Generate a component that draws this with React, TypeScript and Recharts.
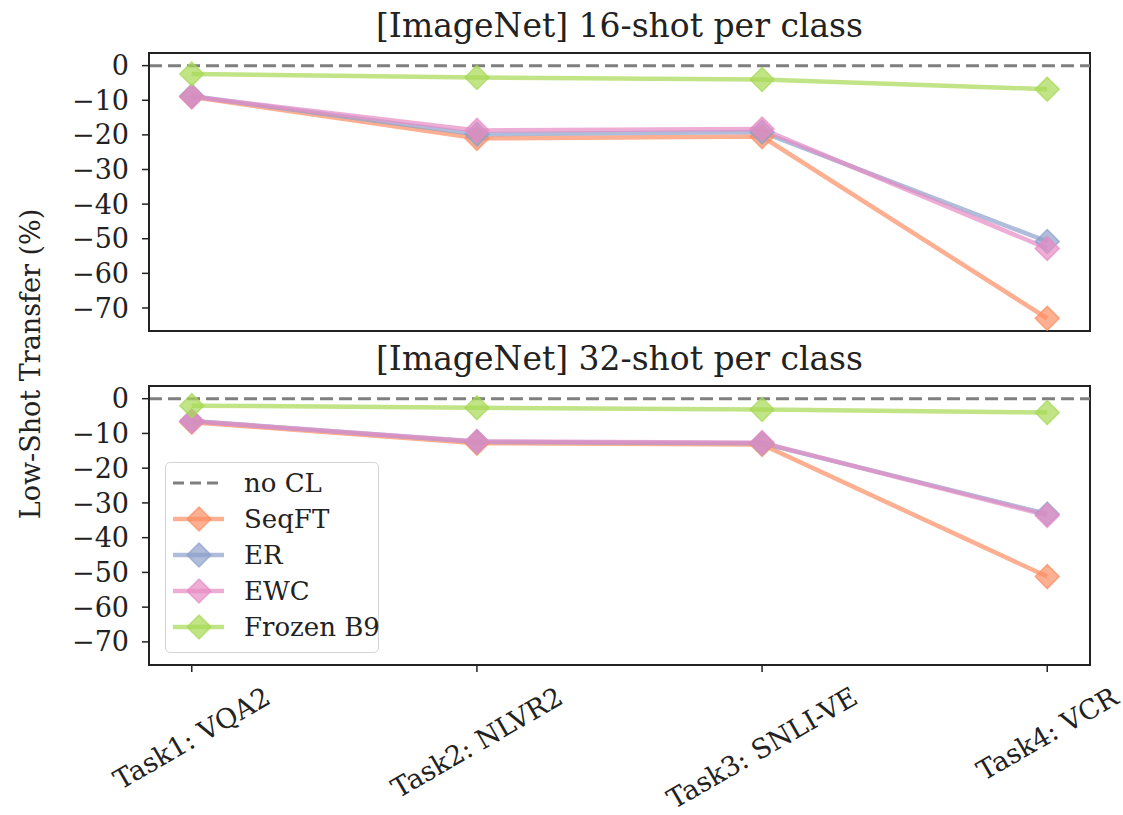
import { LineChart, Line, XAxis, YAxis, ReferenceLine, ReferenceArea, Legend } from "recharts";

const TASKS = ["Task1: VQA2", "Task2: NLVR2", "Task3: SNLI-VE", "Task4: VCR"];
const TASK_IDX = [0, 1, 2, 3];
const Y_TICKS = [0, -10, -20, -30, -40, -50, -60, -70];

// [ImageNet] 16-shot per class
const SEQFT_16 = [-9, -21, -20.5, -73];
const ER_16 = [-8.8, -19.8, -19.2, -50.8];
const EWC_16 = [-9, -18.7, -18.3, -52.8];
const FROZEN_16 = [-2.4, -3.4, -4, -6.8];

// [ImageNet] 32-shot per class
const SEQFT_32 = [-6.8, -12.8, -13.2, -51.2];
const ER_32 = [-6.4, -12.4, -12.8, -33.2];
const EWC_32 = [-6.5, -12.3, -12.7, -33.6];
const FROZEN_32 = [-2, -2.6, -3.1, -4];

const FONT = "'DejaVu Serif', serif";
const INK = "#222";
const ALPHA = 0.7;
const Y_DOMAIN: [number, number] = [-76.65, 3.65];
const X_DOMAIN: [number, number] = [-0.15, 3.15];
const TICK_FONT = 27;

const SERIES = [
  { key: "seqft", name: "SeqFT", color: "#fc8d62" },
  { key: "er", name: "ER", color: "#8da0cb" },
  { key: "ewc", name: "EWC", color: "#e78ac3" },
  { key: "frozen", name: "Frozen B9", color: "#a6d854" },
];

function buildRows(seqft: number[], er: number[], ewc: number[], frozen: number[]) {
  return TASK_IDX.map((i) => ({
    x: i,
    seqft: seqft[i],
    er: er[i],
    ewc: ewc[i],
    frozen: frozen[i],
  }));
}

const rows16 = buildRows(SEQFT_16, ER_16, EWC_16, FROZEN_16);
const rows32 = buildRows(SEQFT_32, ER_32, EWC_32, FROZEN_32);

const fmtY = (v: number) => (v < 0 ? `\u2212${Math.abs(v)}` : `${v}`);

const diamondPath = (cx: number, cy: number, r: number) =>
  `M${cx},${cy - r}L${cx + r},${cy}L${cx},${cy + r}L${cx - r},${cy}Z`;

const diamondDot = (color: string) => (props: Record<string, unknown>) => {
  const { cx, cy, index } = props as { cx?: number; cy?: number; index: number };
  if (cx == null || cy == null) return <g key={index} />;
  return (
    <path
      key={index}
      d={diamondPath(cx, cy, 12)}
      fill={color}
      fillOpacity={ALPHA}
      stroke={color}
      strokeOpacity={ALPHA}
      strokeWidth={1.5}
    />
  );
};

let measureCtx: CanvasRenderingContext2D | null = null;
function textWidth(s: string, size: number): number {
  if (!measureCtx) measureCtx = document.createElement("canvas").getContext("2d");
  if (!measureCtx) return s.length * size * 0.6;
  measureCtx.font = `${size}px 'DejaVu Serif'`;
  return measureCtx.measureText(s).width;
}

const TaskTick = (props: { x: number; y: number; payload: { value: number } }) => {
  const { x, y, payload } = props;
  const label = TASKS[payload.value] ?? "";
  const size = 27;
  const L = textWidth(label, size);
  // centre of a 30-degree rotated label whose box top sits below the tick
  const cy = y + 8 + (L * 0.5 + size * 1.05 * 0.866) / 2;
  return (
    <text
      x={x}
      y={cy}
      transform={`rotate(-30, ${x}, ${cy})`}
      textAnchor="middle"
      dominantBaseline="central"
      fontFamily={FONT}
      fontSize={size}
      fill={INK}
    >
      {label}
    </text>
  );
};

const LegendBox = () => (
  <div
    style={{
      boxSizing: "border-box",
      width: 214,
      border: "1px solid #d4d4d4",
      borderRadius: 5,
      background: "rgba(255,255,255,0.8)",
      padding: "2px 0 7px 0",
      fontFamily: FONT,
      fontSize: 26,
      color: INK,
      whiteSpace: "nowrap",
    }}
  >
    <div style={{ display: "flex", alignItems: "center", height: 36 }}>
      <svg width={78} height={36} style={{ flex: "none" }}>
        <line x1={7} x2={58} y1={18} y2={18} stroke="#7f7f7f" strokeWidth={3} strokeDasharray="11 6" />
      </svg>
      <span>no CL</span>
    </div>
    {SERIES.map((s) => (
      <div key={s.key} style={{ display: "flex", alignItems: "center", height: 36 }}>
        <svg width={78} height={36} style={{ flex: "none" }}>
          <line x1={7} x2={58} y1={18} y2={18} stroke={s.color} strokeOpacity={ALPHA} strokeWidth={4.5} />
          <path
            d={diamondPath(33, 18, 12)}
            fill={s.color}
            fillOpacity={ALPHA}
            stroke={s.color}
            strokeOpacity={ALPHA}
            strokeWidth={1.5}
          />
        </svg>
        <span>{s.name}</span>
      </div>
    ))}
  </div>
);

function Panel({ rows, bottom }: { rows: Array<Record<string, number>>; bottom: boolean }) {
  const frame = { stroke: INK, strokeWidth: 2 };
  return (
    <LineChart
      width={1123}
      height={bottom ? 470 : 345}
      data={rows}
      margin={{ top: bottom ? 41 : 53, right: 33, bottom: bottom ? 0 : 14, left: 0 }}
    >
      <XAxis
        dataKey="x"
        type="number"
        domain={X_DOMAIN}
        ticks={TASK_IDX}
        interval={0}
        allowDataOverflow
        axisLine={frame}
        height={bottom ? 150 : 0}
        tick={bottom ? (p: any) => <TaskTick {...p} /> : false}
        tickLine={bottom ? { stroke: INK, strokeWidth: 1.5 } : false}
        tickSize={7}
        tickMargin={2}
      />
      <YAxis
        type="number"
        domain={Y_DOMAIN}
        ticks={Y_TICKS}
        interval={0}
        allowDataOverflow
        width={149}
        axisLine={frame}
        tick={{ fontSize: TICK_FONT, fill: INK, fontFamily: FONT }}
        tickFormatter={fmtY}
        tickLine={{ stroke: INK, strokeWidth: 1.5 }}
        tickSize={7}
        tickMargin={13}
      />
      <ReferenceArea
        x1={X_DOMAIN[0]}
        x2={X_DOMAIN[1]}
        y1={Y_DOMAIN[0]}
        y2={Y_DOMAIN[1]}
        fill="none"
        fillOpacity={0}
        stroke={INK}
        strokeWidth={2}
        strokeOpacity={1}
      />
      {SERIES.map((s) => (
        <Line
          key={s.key}
          type="linear"
          dataKey={s.key}
          name={s.name}
          stroke={s.color}
          strokeOpacity={ALPHA}
          strokeWidth={4.5}
          dot={diamondDot(s.color)}
          activeDot={false}
          isAnimationActive={false}
        />
      ))}
      <ReferenceLine y={0} stroke="#7f7f7f" strokeWidth={3} strokeDasharray="13 6" />
      {bottom && (
        <Legend
          layout="vertical"
          align="center"
          verticalAlign="middle"
          content={() => <LegendBox />}
          wrapperStyle={{ left: 165, top: 117, width: 214, height: "auto" }}
        />
      )}
    </LineChart>
  );
}

const titleStyle: React.CSSProperties = {
  position: "absolute",
  left: 149,
  width: 941,
  textAlign: "center",
  fontFamily: FONT,
  fontSize: 33,
  lineHeight: "33px",
  color: INK,
  whiteSpace: "nowrap",
};

export default function App() {
  return (
    <div style={{ position: "absolute", left: 0, top: 0, width: 1123, height: 815, background: "#fff" }}>
      <div style={{ position: "absolute", left: 0, top: 0 }}>
        <Panel rows={rows16} bottom={false} />
      </div>
      <div style={{ position: "absolute", left: 0, top: 345 }}>
        <Panel rows={rows32} bottom={true} />
      </div>
      <div style={{ ...titleStyle, top: 9 }}>[ImageNet] 16-shot per class</div>
      <div style={{ ...titleStyle, top: 342 }}>[ImageNet] 32-shot per class</div>
      <div
        style={{
          position: "absolute",
          left: 30,
          top: 364,
          transform: "translate(-50%, -50%) rotate(-90deg)",
          fontFamily: FONT,
          fontSize: 27,
          color: INK,
          whiteSpace: "nowrap",
        }}
      >
        Low-Shot Transfer (%)
      </div>
    </div>
  );
}
